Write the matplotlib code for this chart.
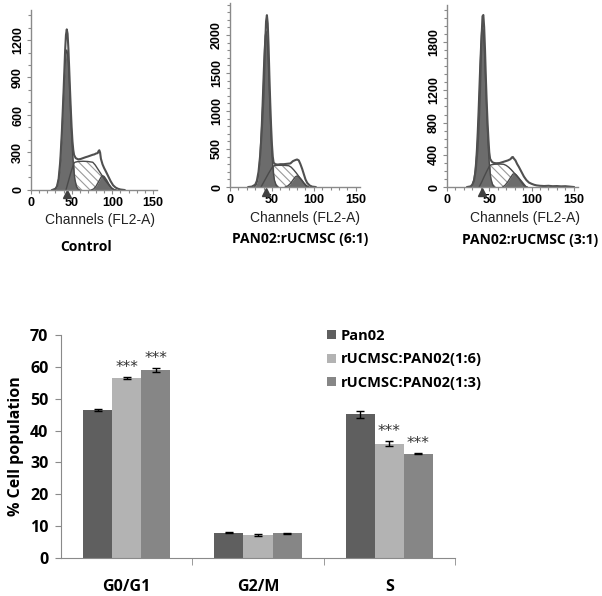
import numpy as np
import matplotlib
matplotlib.use('Agg')
import matplotlib.pyplot as plt
from matplotlib.ticker import MultipleLocator

plt.rcParams['hatch.linewidth'] = 0.8

# ---- flow cytometry histograms ----
panel_titles = ['Control', 'PAN02:rUCMSC (6:1)', 'PAN02:rUCMSC (3:1)']
panel_yticks = [[0, 300, 600, 900, 1200], [0, 500, 1000, 1500, 2000], [0, 400, 800, 1200, 1800]]
panel_ymax = [1440, 2420, 2260]
g1_marker = [44, 43, 42]
s_split = [53, 52, 51]

# Control
h1_ch = [26, 30, 32, 34, 36, 38, 40, 41, 42, 43, 44, 45, 46, 47, 48, 49, 50, 51, 52, 53, 55, 58, 61, 64, 67, 70,
         73, 76, 78, 80, 82, 83, 84, 85, 86, 88, 90, 92, 95, 98, 101, 104, 107, 110, 115]
h1_ct = [0, 10, 30, 90, 230, 470, 780, 950, 1120, 1240, 1285, 1250, 1130, 970, 800, 640, 500, 390, 320, 280, 255,
         245, 248, 255, 262, 268, 275, 282, 285, 292, 295, 310, 318, 300, 250, 205, 175, 150, 110, 70, 38, 20, 10, 4, 0]
g1_1_ch = [28, 30, 32, 34, 35, 36, 37, 38, 39, 40, 41, 42, 43, 44, 45, 46, 47, 48, 49, 50, 51, 52, 53, 54, 56, 58, 60]
g1_1_ct = [0, 7, 27, 85, 138, 215, 316, 442, 587, 741, 887, 1010, 1091, 1120, 1091, 1010, 887, 741, 587, 442, 316,
           215, 138, 85, 27, 7, 0]
s1_ch = [43, 46, 49, 52, 53, 54, 58, 64, 70, 76, 79, 82, 85, 88, 91, 94, 97, 100, 103]
s1_ct = [0, 70, 140, 200, 215, 222, 228, 230, 228, 222, 200, 170, 140, 110, 80, 55, 30, 10, 0]
g2_1_ch = [74, 77, 80, 83, 86, 88, 90, 93, 96, 99, 102, 105]
g2_1_ct = [0, 8, 30, 65, 100, 115, 108, 80, 45, 18, 4, 0]

# 6:1
h2_ch = [22, 26, 30, 32, 34, 36, 38, 40, 41, 42, 43, 44, 45, 46, 47, 48, 49, 50, 51, 52, 54, 57, 60, 64, 68, 72,
         75, 78, 80, 82, 84, 86, 88, 90, 92, 95, 98, 102]
h2_ct = [0, 5, 30, 80, 200, 420, 760, 1200, 1550, 1900, 2180, 2260, 2150, 1850, 1450, 1100, 800, 560, 400, 320,
         300, 295, 300, 300, 305, 310, 340, 355, 362, 350, 300, 240, 170, 100, 55, 20, 5, 0]
g1_2_ch = [29, 31, 33, 34, 35, 36, 37, 38, 39, 40, 41, 42, 43, 44, 45, 46, 47, 48, 49, 50, 51, 52, 53, 55, 57]
g1_2_ct = [0, 23, 90, 163, 277, 443, 666, 939, 1243, 1548, 1809, 1986, 2050, 1986, 1809, 1548, 1243, 939, 666, 443,
           277, 163, 90, 23, 0]
s2_ch = [37, 40, 43, 46, 49, 51, 52, 53, 58, 64, 70, 73, 76, 79, 82, 85, 88, 91, 93]
s2_ct = [0, 60, 120, 180, 235, 270, 276, 282, 285, 285, 280, 260, 225, 185, 140, 95, 50, 10, 0]
g2_2_ch = [66, 69, 72, 75, 78, 80, 82, 85, 88, 91, 94]
g2_2_ct = [0, 15, 45, 90, 135, 145, 135, 100, 55, 20, 0]

# 3:1
h3_ch = [24, 28, 30, 32, 34, 36, 37, 38, 39, 40, 41, 42, 43, 44, 45, 46, 47, 48, 49, 50, 51, 53, 55, 58, 62, 66,
         69, 72, 75, 77, 78, 79, 81, 83, 85, 88, 91, 94, 97, 100, 103, 106, 110, 115, 120, 125, 130, 135, 140, 145, 150]
h3_ct = [0, 8, 30, 80, 210, 450, 640, 880, 1180, 1550, 1880, 2120, 2136, 1980, 1700, 1350, 1050, 800, 600, 430,
         350, 315, 300, 295, 297, 310, 320, 330, 345, 370, 372, 355, 330, 285, 250, 190, 130, 85, 55, 40, 28, 20, 15,
         12, 15, 10, 12, 8, 10, 5, 0]
g1_3_ch = [28, 30, 32, 33, 34, 35, 36, 37, 38, 39, 40, 41, 42, 43, 44, 45, 46, 47, 48, 49, 50, 51, 52, 54, 56]
g1_3_ct = [0, 27, 101, 178, 297, 464, 683, 945, 1236, 1522, 1767, 1932, 1990, 1932, 1767, 1522, 1236, 945, 683, 464,
           297, 178, 101, 27, 0]
s3_ch = [38, 41, 44, 47, 50, 51, 52, 56, 62, 67, 70, 73, 76, 79, 82, 85, 88, 91, 93, 94]
s3_ct = [0, 60, 130, 195, 255, 268, 275, 282, 285, 282, 268, 245, 215, 180, 145, 110, 75, 35, 10, 0]
g2_3_ch = [66, 69, 72, 75, 78, 80, 82, 85, 88, 91, 93, 95]
g2_3_ct = [0, 25, 65, 115, 160, 165, 150, 110, 60, 20, 5, 0]

hist_data = [
    (h1_ch, h1_ct, g1_1_ch, g1_1_ct, s1_ch, s1_ct, g2_1_ch, g2_1_ct),
    (h2_ch, h2_ct, g1_2_ch, g1_2_ct, s2_ch, s2_ct, g2_2_ch, g2_2_ct),
    (h3_ch, h3_ct, g1_3_ch, g1_3_ct, s3_ch, s3_ct, g2_3_ch, g2_3_ct),
]

# ---- bar chart ----
phases = ['G0/G1', 'G2/M', 'S']
groups = ['Pan02', 'rUCMSC:PAN02(1:6)', 'rUCMSC:PAN02(1:3)']
pan02 = [46.5, 8.0, 45.2]
pan02_err = [0.2, 0.2, 1.1]
ratio_16 = [56.5, 7.2, 35.9]
ratio_16_err = [0.4, 0.2, 0.85]
ratio_13 = [59.0, 7.7, 32.8]
ratio_13_err = [0.6, 0.2, 0.25]
bar_colors = ['#5f5f5f', '#b3b3b3', '#868686']
stars = [[False, True, True], [False, False, False], [False, True, True]]

W, H = 602, 596
fig = plt.figure(figsize=(W / 100, H / 100), dpi=100)

DARK = '#6c6c6c'
EDGE = '#4a4a4a'
AXC = '#8a8a8a'
arial_b = dict(family='Liberation Sans', weight='bold')
calibri_b = dict(family='Open Sans', weight='bold')

# axes rectangles in pixels: left, baseline, width, top
hist_boxes = [(31, 190, 126, 10), (230, 187, 130, 3), (447, 187, 131, 5)]
xlabel_pos = [(100, 220), (305, 218), (525, 218)]
title_pos = [(86, 247), (300, 239), (530, 240)]

for i, (left, base, wid, top) in enumerate(hist_boxes):
    ax = fig.add_axes([left / W, 1 - base / H, wid / W, (base - top) / H])
    h_ch, h_ct, g1c, g1v, sc, sv, g2c, g2v = [np.array(a, dtype=float) for a in hist_data[i]]
    split = s_split[i]
    ax.fill_between(sc, 0, sv, where=sc >= split, interpolate=True, facecolor='white',
                    edgecolor='#9a9a9a', hatch='\\\\\\\\', linewidth=0)
    ax.fill_between(sc, 0, sv, where=sc <= split, interpolate=True, color=DARK, linewidth=0)
    ax.plot(sc, sv, color=EDGE, lw=1.0)
    ax.fill_between(g1c, 0, g1v, color=DARK, linewidth=0)
    ax.plot(g1c, g1v, color=EDGE, lw=1.0)
    ax.fill_between(g2c, 0, g2v, color=DARK, linewidth=0)
    ax.plot(g2c, g2v, color=EDGE, lw=1.0)
    ax.plot(h_ch, h_ct, color='#505050', lw=1.5)
    ax.plot([g1_marker[i]], [-0.025], marker='^', ms=5.5, color='#404040',
            transform=ax.get_xaxis_transform(), clip_on=False)

    ax.set_xlim(0, 155)
    ax.set_ylim(0, panel_ymax[i])
    ax.set_xticks([0, 50, 100, 150])
    ax.xaxis.set_minor_locator(MultipleLocator(10))
    ax.set_yticks(panel_yticks[i])
    ax.yaxis.set_minor_locator(MultipleLocator(100))
    for s in ['top', 'right']:
        ax.spines[s].set_visible(False)
    for s in ['left', 'bottom']:
        ax.spines[s].set_color(AXC)
        ax.spines[s].set_linewidth(1.0)
    ax.tick_params(which='both', color=AXC, width=0.8)
    ax.tick_params(which='major', length=3, pad=2)
    ax.tick_params(which='minor', length=2)
    ax.tick_params(axis='y', labelrotation=90)
    for lab in ax.get_xticklabels() + ax.get_yticklabels():
        lab.set_fontproperties(dict(arial_b, size=9))
    for lab in ax.get_yticklabels():
        lab.set_va('center')
    fig.text(xlabel_pos[i][0] / W, 1 - xlabel_pos[i][1] / H, 'Channels (FL2-A)', family='Liberation Sans',
             size=10, color='#222222', ha='center', va='center')
    fig.text(title_pos[i][0] / W, 1 - title_pos[i][1] / H, panel_titles[i], fontproperties=dict(calibri_b, size=10),
             ha='center', va='center')

# bar chart axes: x from 61 to 455 px, y=0 at 558, y=70 at 335
bx = fig.add_axes([61 / W, 1 - 558 / H, (455 - 61) / W, (558 - 335) / H])
x = np.arange(len(phases))
w = 0.222
series = [(pan02, pan02_err), (ratio_16, ratio_16_err), (ratio_13, ratio_13_err)]
for j, (vals, errs) in enumerate(series):
    xs = x + (j - 1) * w
    bx.bar(xs, vals, w, color=bar_colors[j], label=groups[j], yerr=errs,
           error_kw=dict(ecolor='black', elinewidth=1, capsize=3, capthick=1))
    for k in range(len(phases)):
        if stars[k][j]:
            bx.text(xs[k], vals[k] + errs[k] + 0.6, '***', ha='center', va='bottom',
                    fontsize=11, color='#333333', family='DejaVu Sans')

bx.set_xlim(-0.5, 2.5)
bx.set_ylim(0, 70)
bx.set_yticks(range(0, 71, 10))
bx.set_xticks(x)
bx.set_xticklabels(phases)
bx.set_xticks([0.5, 1.5, 2.5], minor=True)
bx.tick_params(axis='x', which='major', length=0, pad=15)
bx.tick_params(axis='x', which='minor', length=5, color=AXC)
bx.tick_params(axis='y', length=4, color=AXC, pad=5)
for s in ['top', 'right']:
    bx.spines[s].set_visible(False)
for s in ['left', 'bottom']:
    bx.spines[s].set_color(AXC)
for lab in bx.get_xticklabels() + bx.get_yticklabels():
    lab.set_fontproperties(dict(calibri_b, size=11.5))
bx.set_ylabel('% Cell population', fontproperties=dict(calibri_b, size=11.5), labelpad=4)

leg = bx.legend(loc='upper left', bbox_to_anchor=(327 / W, 1 - 329 / H), bbox_transform=fig.transFigure,
                frameon=False, handlelength=0.6, handleheight=0.6, handletextpad=0.35, labelspacing=0.65,
                prop=dict(calibri_b, size=10.5), borderaxespad=0, borderpad=0)

fig.savefig('out.png', dpi=100)
